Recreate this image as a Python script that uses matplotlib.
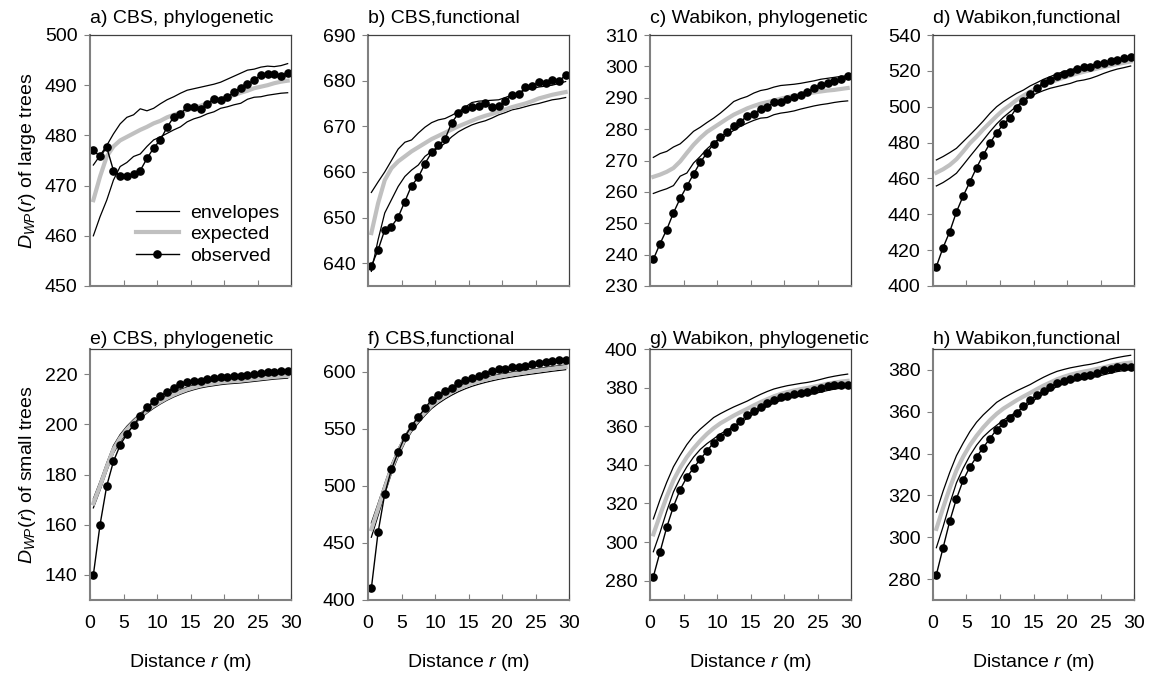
import numpy as np
import matplotlib
matplotlib.use("Agg")
import matplotlib.pyplot as plt

plt.rcParams['font.family'] = ['Liberation Sans', 'DejaVu Sans']
plt.rcParams['mathtext.fontset'] = 'custom'
plt.rcParams['mathtext.rm'] = 'Liberation Sans'
plt.rcParams['mathtext.it'] = 'Liberation Sans:italic'

# distance classes (m)
r = [0.5, 1.5, 2.5, 3.5, 4.5, 5.5, 6.5, 7.5, 8.5, 9.5,
     10.5, 11.5, 12.5, 13.5, 14.5, 15.5, 16.5, 17.5, 18.5, 19.5,
     20.5, 21.5, 22.5, 23.5, 24.5, 25.5, 26.5, 27.5, 28.5, 29.5]

# a) CBS, phylogenetic (large trees)
a_obs = [477.0, 475.8, 477.6, 473.0, 472.0, 471.9, 472.4, 473.0, 475.4, 477.5, 479.1, 481.6, 483.7, 484.3, 485.6,
         485.7, 485.3, 486.3, 487.3, 487.1, 487.6, 488.7, 489.4, 490.2, 491.0, 492.0, 492.2, 492.2, 491.8, 492.5]
a_hi = [474.1, 476.0, 478.0, 480.3, 482.3, 483.6, 484.1, 485.3, 484.9, 485.4, 486.3, 487.1, 487.7, 488.4, 489.0,
        489.3, 489.6, 489.9, 490.2, 490.6, 491.2, 491.8, 492.4, 493.0, 493.2, 493.6, 493.8, 493.7, 493.9, 494.3]
a_lo = [460.0, 463.8, 467.1, 471.1, 473.8, 474.6, 475.8, 476.3, 477.8, 479.1, 479.7, 480.4, 481.1, 481.7, 482.7,
        483.3, 483.7, 484.3, 484.7, 485.4, 485.7, 486.1, 486.4, 487.2, 487.6, 487.7, 488.0, 488.2, 488.4, 488.5]
a_exp = [467.1, 471.8, 475.8, 477.8, 479.0, 479.7, 480.4, 481.1, 481.7, 482.4, 482.9, 483.6, 484.1, 484.5, 485.1,
         485.4, 485.9, 486.4, 486.7, 487.2, 487.7, 488.0, 488.5, 488.9, 489.4, 489.7, 490.0, 490.4, 490.7, 490.9]

# b) CBS, functional (large trees)
b_obs = [639.4, 642.9, 647.3, 648.0, 650.1, 653.5, 657.0, 658.8, 661.8, 664.3, 665.8, 667.2, 670.8, 672.8, 673.7,
         674.3, 674.5, 675.2, 674.3, 674.5, 675.6, 676.9, 677.0, 678.5, 678.9, 679.6, 679.4, 680.1, 679.9, 681.2]
b_hi = [655.5, 657.8, 660.0, 662.5, 665.0, 666.5, 667.0, 668.5, 669.8, 670.8, 671.4, 671.7, 672.4, 673.2, 674.2,
        675.2, 675.5, 675.6, 675.7, 675.8, 676.3, 676.9, 677.4, 677.9, 678.3, 678.6, 678.8, 679.0, 679.4, 679.8]
b_lo = [638.2, 645.1, 651.0, 653.9, 656.8, 659.0, 660.4, 661.5, 663.4, 664.5, 665.2, 666.3, 667.7, 668.8, 669.6,
        670.3, 670.8, 671.2, 671.8, 672.5, 673.0, 673.6, 673.9, 674.3, 674.7, 675.0, 675.4, 675.8, 676.0, 676.3]
b_exp = [646.6, 653.1, 658.2, 660.8, 662.3, 663.4, 664.5, 665.4, 666.3, 667.2, 667.9, 668.6, 669.3, 670.0, 670.6,
         671.2, 671.8, 672.3, 672.7, 673.2, 673.7, 674.2, 674.6, 675.0, 675.5, 676.1, 676.5, 676.9, 677.2, 677.5]

# c) Wabikon, phylogenetic (large trees)
c_obs = [238.5, 243.5, 248.0, 253.3, 257.9, 261.8, 265.7, 269.4, 272.4, 275.4, 277.4, 279.0, 280.9, 282.2, 284.3,
         284.9, 286.4, 287.2, 288.5, 288.5, 289.7, 290.3, 290.9, 291.9, 293.1, 294.1, 294.6, 295.4, 296.1, 296.8]
c_hi = [271.0, 272.2, 272.9, 274.3, 275.3, 277.2, 279.3, 280.6, 282.1, 283.5, 285.1, 286.9, 288.8, 289.7, 290.4,
        291.5, 292.3, 292.7, 293.4, 293.9, 294.1, 294.3, 294.6, 295.0, 295.4, 295.9, 296.2, 296.5, 296.8, 297.0]
c_lo = [259.5, 260.3, 261.0, 262.0, 265.0, 266.0, 269.2, 271.3, 273.7, 275.6, 276.8, 278.2, 279.6, 280.9, 281.9,
        282.8, 283.5, 283.7, 284.6, 285.1, 285.4, 285.8, 286.4, 286.9, 287.4, 287.8, 288.1, 288.5, 288.8, 289.0]
c_exp = [264.8, 265.5, 266.4, 267.6, 269.7, 272.4, 275.0, 277.2, 279.1, 280.5, 281.9, 283.3, 284.6, 285.6, 286.6,
         287.4, 288.1, 288.6, 289.1, 289.7, 290.2, 290.6, 291.0, 291.4, 291.7, 292.0, 292.3, 292.5, 292.8, 293.1]

# d) Wabikon, functional (large trees)
d_obs = [410.8, 421.4, 430.3, 441.3, 450.2, 458.0, 466.0, 473.1, 479.6, 485.5, 490.2, 493.9, 499.5, 503.4, 506.9,
         510.4, 513.4, 514.9, 517.0, 518.3, 519.6, 520.9, 522.0, 522.3, 523.6, 524.6, 525.5, 526.1, 527.0, 527.5]
d_hi = [470.3, 472.2, 474.4, 476.8, 480.5, 484.2, 488.0, 492.0, 496.3, 500.0, 502.8, 505.2, 507.5, 509.3, 511.6,
        513.4, 515.3, 516.8, 518.3, 519.6, 520.6, 521.5, 522.3, 523.0, 523.7, 524.4, 525.0, 525.6, 526.1, 526.6]
d_lo = [455.8, 457.7, 460.1, 462.9, 467.5, 472.2, 476.8, 481.4, 486.1, 490.4, 494.1, 497.2, 500.4, 503.2, 505.6,
        507.5, 509.0, 510.3, 511.2, 512.1, 513.0, 514.3, 514.9, 515.8, 517.1, 518.6, 519.9, 521.0, 521.8, 522.7]
d_exp = [463.2, 465.1, 467.5, 470.7, 475.0, 479.6, 483.3, 487.4, 491.1, 494.8, 498.2, 500.9, 503.8, 506.2, 508.4,
         510.4, 512.1, 513.6, 514.9, 516.2, 517.4, 518.5, 519.5, 520.4, 521.3, 522.2, 523.0, 523.8, 524.5, 525.2]

# e) CBS, phylogenetic (small trees)
e_obs = [140.0, 160.0, 175.5, 185.2, 191.7, 196.1, 199.6, 203.3, 206.7, 209.2, 211.2, 212.9, 214.5, 216.0, 216.8,
         217.2, 217.3, 217.9, 218.4, 218.7, 218.9, 219.2, 219.3, 219.6, 219.9, 220.3, 220.7, 220.9, 221.2, 221.3]
e_hi = [170.3, 177.2, 184.6, 191.5, 195.9, 199.2, 201.9, 204.3, 206.5, 208.4, 209.9, 211.4, 212.7, 213.8, 214.8,
        215.6, 216.3, 216.8, 217.2, 217.6, 217.9, 218.1, 218.3, 218.6, 218.9, 219.2, 219.5, 219.8, 220.0, 220.2]
e_lo = [166.7, 173.8, 181.4, 188.5, 193.1, 196.8, 199.7, 202.3, 204.5, 206.4, 208.1, 209.6, 210.9, 212.0, 213.0,
        213.8, 214.5, 215.0, 215.4, 215.8, 216.1, 216.3, 216.5, 216.8, 217.1, 217.4, 217.7, 218.0, 218.2, 218.4]
e_exp = [168.5, 175.5, 183.0, 190.0, 194.5, 198.0, 200.8, 203.3, 205.5, 207.4, 209.0, 210.5, 211.8, 212.9, 213.9,
         214.7, 215.4, 215.9, 216.3, 216.7, 217.0, 217.2, 217.4, 217.7, 218.0, 218.3, 218.6, 218.9, 219.1, 219.3]

# f) CBS, functional (small trees)
f_obs = [410.3, 459.2, 493.0, 514.4, 529.6, 543.1, 552.5, 560.4, 568.0, 575.7, 579.8, 583.3, 586.2, 590.3, 592.7,
         594.7, 596.5, 598.5, 600.3, 602.1, 602.9, 603.8, 603.8, 605.3, 606.5, 607.3, 608.2, 609.1, 610.3, 610.6]
f_hi = [467.5, 484.5, 502.0, 519.0, 532.5, 544.0, 553.0, 560.3, 566.7, 572.6, 577.0, 580.7, 584.0, 587.0, 589.5,
        591.6, 593.4, 594.9, 596.3, 597.5, 598.6, 599.6, 600.5, 601.4, 602.2, 603.0, 603.8, 604.6, 605.3, 606.0]
f_lo = [455.0, 474.0, 493.0, 511.0, 525.5, 538.0, 547.5, 555.0, 561.8, 567.8, 572.3, 576.2, 579.6, 582.6, 585.1,
        587.3, 589.1, 590.7, 592.1, 593.4, 594.5, 595.5, 596.4, 597.3, 598.1, 598.9, 599.7, 600.5, 601.2, 601.9]
f_exp = [462.0, 480.0, 498.0, 515.5, 529.5, 541.5, 550.5, 558.0, 564.5, 570.5, 575.0, 578.8, 582.2, 585.2, 587.7,
         589.8, 591.6, 593.1, 594.5, 595.7, 596.8, 597.8, 598.7, 599.6, 600.4, 601.2, 602.0, 602.8, 603.5, 604.2]

# g) Wabikon, phylogenetic (small trees)
g_obs = [282.1, 294.9, 307.7, 318.4, 327.2, 333.6, 338.4, 342.9, 347.2, 351.5, 354.4, 357.1, 359.5, 362.7, 365.6,
         368.0, 369.9, 372.0, 373.6, 374.9, 375.7, 376.5, 377.1, 377.6, 378.7, 380.0, 380.6, 381.3, 381.6, 381.6]
g_hi = [312.0, 322.0, 331.0, 339.0, 345.0, 350.5, 355.0, 358.5, 361.5, 364.5, 366.5, 368.3, 370.0, 371.5, 373.0,
        374.8, 376.5, 378.0, 379.3, 380.2, 381.0, 381.6, 382.2, 382.7, 383.4, 384.3, 385.2, 385.9, 386.5, 387.0]
g_lo = [295.0, 305.0, 316.0, 326.0, 333.0, 339.0, 344.0, 348.0, 351.0, 353.5, 356.0, 358.0, 360.0, 362.0, 364.0,
        366.5, 368.5, 370.3, 372.0, 373.3, 374.3, 375.0, 375.6, 376.2, 376.9, 377.7, 378.5, 379.2, 379.7, 380.2]
g_exp = [304.0, 314.0, 323.5, 332.0, 338.5, 344.0, 348.5, 352.5, 356.0, 359.0, 361.5, 363.5, 365.5, 367.3, 369.0,
         370.8, 372.5, 374.0, 375.5, 376.7, 377.7, 378.5, 379.2, 379.8, 380.5, 381.2, 382.0, 382.6, 383.1, 383.5]

# h) Wabikon, functional (small trees)
h_obs = [282.1, 294.9, 307.7, 318.4, 327.2, 333.6, 338.4, 342.9, 347.2, 351.5, 354.4, 357.1, 359.5, 362.7, 365.6,
         368.0, 369.9, 372.0, 373.6, 374.9, 375.7, 376.5, 377.1, 377.6, 378.7, 380.0, 380.6, 381.3, 381.6, 381.6]
h_hi = [312.0, 322.0, 331.0, 339.0, 345.0, 350.5, 355.0, 358.5, 361.5, 364.5, 366.5, 368.3, 370.0, 371.5, 373.0,
        374.8, 376.5, 378.0, 379.3, 380.2, 381.0, 381.6, 382.2, 382.7, 383.4, 384.3, 385.2, 385.9, 386.5, 387.0]
h_lo = [295.0, 305.0, 316.0, 326.0, 333.0, 339.0, 344.0, 348.0, 351.0, 353.5, 356.0, 358.0, 360.0, 362.0, 364.0,
        366.5, 368.5, 370.3, 372.0, 373.3, 374.3, 375.0, 375.6, 376.2, 376.9, 377.7, 378.5, 379.2, 379.7, 380.2]
h_exp = [304.0, 314.0, 323.5, 332.0, 338.5, 344.0, 348.5, 352.5, 356.0, 359.0, 361.5, 363.5, 365.5, 367.3, 369.0,
         370.8, 372.5, 374.0, 375.5, 376.7, 377.7, 378.5, 379.2, 379.8, 380.5, 381.2, 382.0, 382.6, 383.1, 383.5]

titles = ['a) CBS, phylogenetic', 'b) CBS,functional', 'c) Wabikon, phylogenetic', 'd) Wabikon,functional',
          'e) CBS, phylogenetic', 'f) CBS,functional', 'g) Wabikon, phylogenetic', 'h) Wabikon,functional']
panels = [(a_obs, a_hi, a_lo, a_exp), (b_obs, b_hi, b_lo, b_exp), (c_obs, c_hi, c_lo, c_exp),
          (d_obs, d_hi, d_lo, d_exp), (e_obs, e_hi, e_lo, e_exp), (f_obs, f_hi, f_lo, f_exp),
          (g_obs, g_hi, g_lo, g_exp), (h_obs, h_hi, h_lo, h_exp)]
ylims = [(450, 500), (635, 690), (230, 310), (400, 540), (130, 230), (400, 620), (270, 400), (270, 390)]
yticks = [np.arange(450, 501, 10), np.arange(640, 691, 10), np.arange(230, 311, 10), np.arange(400, 541, 20),
          np.arange(140, 221, 20), np.arange(400, 601, 50), np.arange(280, 401, 20), np.arange(280, 381, 20)]

W, H = 1149, 677
fig = plt.figure(figsize=(W / 100, H / 100), dpi=100)
lefts = [90, 368, 650, 933]
tops = [35, 349]
aw, ah = 201, 251
fs = 14

axes = []
for i in range(8):
    row, col = divmod(i, 4)
    ax = fig.add_axes([lefts[col] / W, 1 - (tops[row] + ah) / H, aw / W, ah / H])
    axes.append(ax)
    obs, hi, lo, exp = panels[i]
    ax.plot(r, hi, color='black', lw=0.9, label='envelopes')
    ax.plot(r, lo, color='black', lw=0.9)
    ax.plot(r, exp, color='#c0c0c0', lw=3, label='expected')
    ax.plot(r, obs, color='black', lw=1.0, marker='o', ms=5.2, label='observed')
    ax.set_xlim(0, 30)
    ax.set_ylim(*ylims[i])
    ax.set_yticks(yticks[i])
    ax.set_xticks([0, 5, 10, 15, 20, 25, 30])
    ax.tick_params(axis='y', direction='out', length=4, color='#808080', labelsize=fs, pad=5)
    ax.tick_params(axis='x', direction='in', length=4, color='#808080', labelsize=fs, pad=11)
    for s in ['left', 'bottom']:
        ax.spines[s].set_color('#808080')
        ax.spines[s].set_linewidth(1.5)
    for s in ['top', 'right']:
        ax.spines[s].set_color('#404040')
        ax.spines[s].set_linewidth(0.9)
    ax.set_title(titles[i], loc='left', fontsize=fs, pad=8.5 if row == 0 else 3.5)
    if row == 0:
        ax.set_xticklabels([])
    else:
        ax.set_xlabel('Distance $r$ (m)', fontsize=fs, labelpad=14)

axes[0].set_ylabel('$D_{WP}(r)$ of large trees', fontsize=fs, labelpad=5)
axes[4].set_ylabel('$D_{WP}(r)$ of small trees', fontsize=fs, labelpad=5)
axes[0].legend(loc='lower right', bbox_to_anchor=(1.05, 0.0), frameon=False, fontsize=fs,
               handlelength=2.2, labelspacing=0.2, borderaxespad=0.7, handletextpad=0.6)

fig.savefig('out.png', dpi=100)
